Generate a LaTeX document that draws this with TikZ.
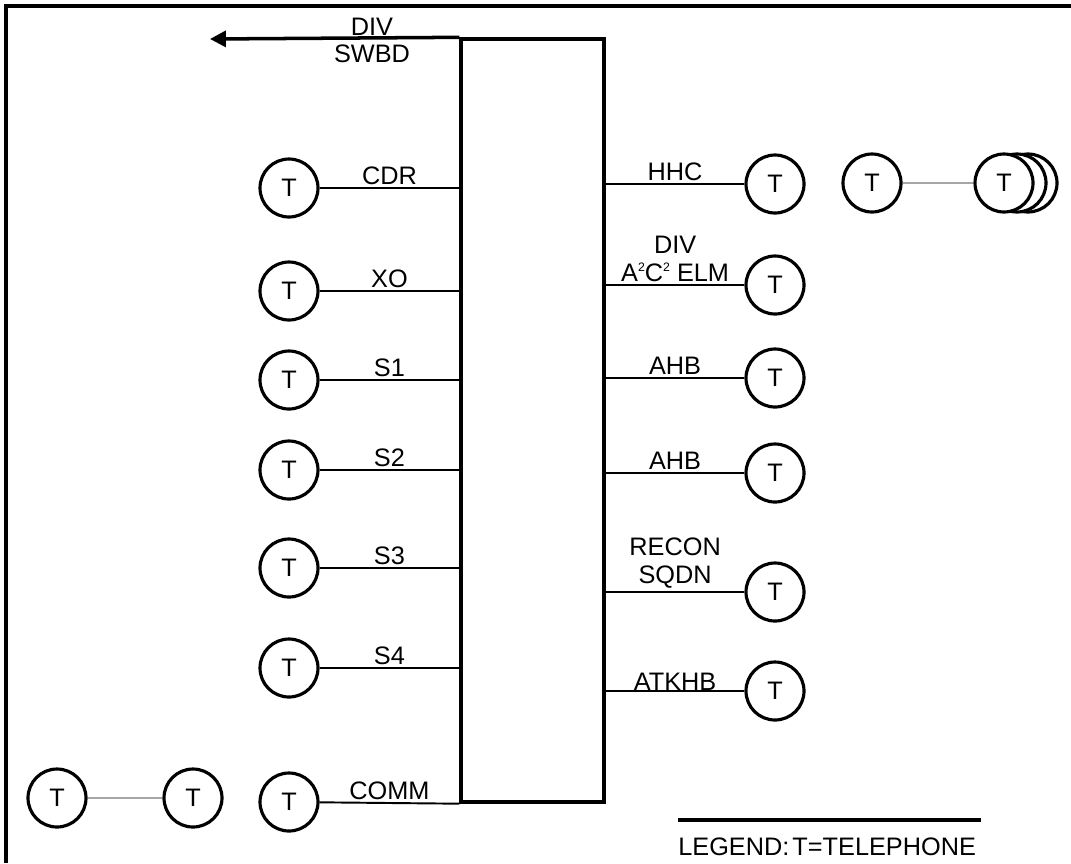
\documentclass[tikz,border=0pt]{standalone}
\usepackage{fontspec}
\setmainfont{Liberation Sans}
\usetikzlibrary{arrows.meta,positioning}
\newcommand{\sqr}{\raisebox{0.75ex}{\fontsize{7}{7}\selectfont 2}}
\tikzset{
  phone/.style={draw,circle,line width=1.8pt,fill=white,minimum size=1.16cm,
    inner sep=0pt},
  feed/.style={line width=1.1pt},
  link/.style={line width=0.8pt,gray!70},
  tag/.style={inner sep=1.5pt,align=center},
  frame/.style={line width=2pt}
}

\begin{document}
\begin{tikzpicture}[x=0.02cm,y=-0.02cm,font=\fontsize{14.4}{16}\selectfont]
      \useasboundingbox (0,0) rectangle (1071,863);
      \draw[frame] (6,863) -- (6,6) -- (1071,6);
      % switchboard
      \node[draw,frame,minimum width=2.86cm,minimum height=15.26cm,inner sep=0pt]
        (swbd) at (532.5,420.5) {};
      \coordinate (tip) at (210,39);
      \draw[frame,-{Triangle[length=9pt,width=9pt]}] (swbd.north west) -- (tip);
      \node[tag,anchor=south,inner sep=2pt] (div) at (372,39) {DIV};
      \node[tag,anchor=north,inner sep=3pt] (sw) at (372,39) {SWBD};
      % left side
      \node[phone] (l1) at (289,188) {T};
      \node[phone] (l2) at (289,291) {T};
      \node[phone] (l3) at (289,380) {T};
      \node[phone] (l4) at (289,470) {T};
      \node[phone] (l5) at (289,568) {T};
      \node[phone] (l6) at (289,668) {T};
      \node[phone] (l7) at (289,802) {T};
      \draw[feed] (l1) -- (swbd.west |- l1) node[midway,above,tag] {CDR};
      \draw[feed] (l2) -- (swbd.west |- l2) node[midway,above,tag] {XO};
      \draw[feed] (l3) -- (swbd.west |- l3) node[midway,above,tag] {S1};
      \draw[feed] (l4) -- (swbd.west |- l4) node[midway,above,tag] {S2};
      \draw[feed] (l5) -- (swbd.west |- l5) node[midway,above,tag] {S3};
      \draw[feed] (l6) -- (swbd.west |- l6) node[midway,above,tag] {S4};
      \draw[feed] (l7) -- (swbd.south west) node[midway,above,tag] {COMM};
      % right side
      \node[phone] (r1) at (775,184) {T};
      \node[phone] (r2) at (775,285) {T};
      \node[phone] (r3) at (775,378) {T};
      \node[phone] (r4) at (775,473) {T};
      \node[phone] (r5) at (775,592) {T};
      \node[phone] (r6) at (775,691) {T};
      \draw[feed] (swbd.east |- r1) -- (r1) node[midway,above,tag] {HHC};
      \draw[feed] (swbd.east |- r2) -- (r2)
        node[midway,above,tag] {DIV\\A\sqr C\sqr\ ELM};
      \draw[feed] (swbd.east |- r3) -- (r3) node[midway,above,tag] {AHB};
      \draw[feed] (swbd.east |- r4) -- (r4) node[midway,above,tag] {AHB};
      \draw[feed] (swbd.east |- r5) -- (r5) node[midway,above,tag] {RECON\\SQDN};
      \draw[feed] (swbd.east |- r6) -- (r6) node[midway,above,tag,inner sep=0pt] {ATKHB};
      % extensions
      \node[phone] (x1) at (872,183) {T};
      \node[phone] (x4) at (1028,183) {};
      \node[phone] (x3) at (1017,183) {};
      \node[phone] (x2) at (1004,183) {T};
      \draw[link] (x1) -- (x2);
      \node[phone] (b1) at (57,798) {T};
      \node[phone] (b2) at (193,798) {T};
      \draw[link] (b1) -- (b2);
      % legend
      \coordinate (lg1) at (678,820);
      \coordinate (lg2) at (981,820);
      \draw[line width=2.2pt] (lg1) -- (lg2);
      \node[anchor=north west,inner sep=0pt] (legend) at (678,837) {LEGEND:\hspace{0.12em}T=TELEPHONE};
    \end{tikzpicture}
\end{document}
